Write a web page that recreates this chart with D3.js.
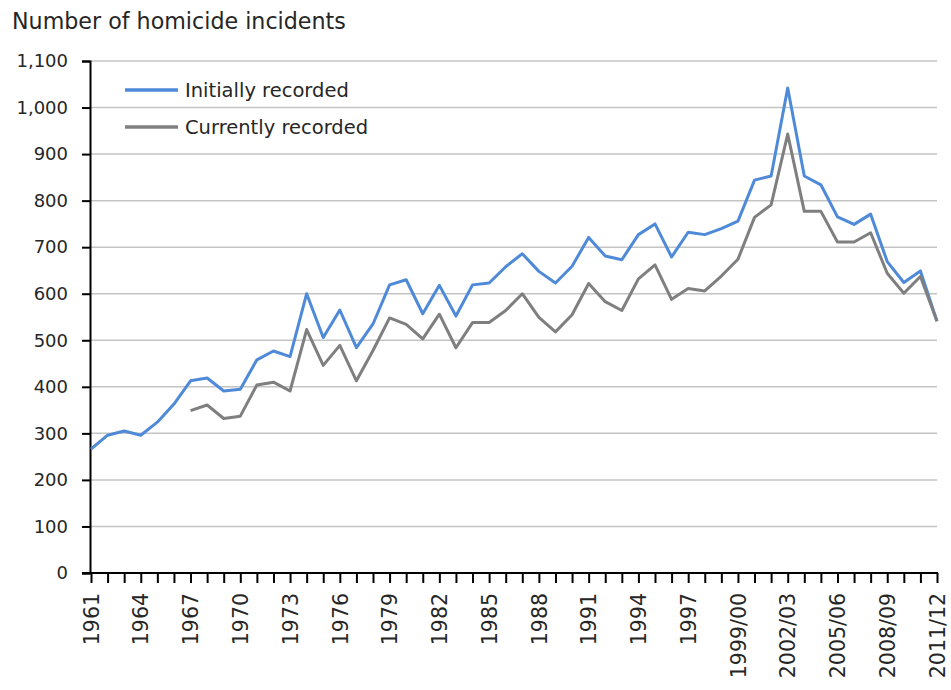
<!DOCTYPE html>
<html>
<head>
<meta charset="utf-8">
<script src="https://cdn.jsdelivr.net/npm/d3@7"></script>
<style>
  html, body { margin: 0; padding: 0; background: #ffffff; }
  svg { display: block; }
  text { font-family: "DejaVu Sans", sans-serif; fill: #262626; }
</style>
</head>
<body>
<svg id="chart" width="951" height="690"></svg>
<script>
// ---- Data ----
const categories = [
  "1961","1962","1963","1964","1965","1966","1967","1968","1969","1970",
  "1971","1972","1973","1974","1975","1976","1977","1978","1979","1980",
  "1981","1982","1983","1984","1985","1986","1987","1988","1989","1990",
  "1991","1992","1993","1994","1995","1996","1997","1997/98","1998/99","1999/00",
  "2000/01","2001/02","2002/03","2003/04","2004/05","2005/06","2006/07","2007/08","2008/09","2009/10",
  "2010/11","2011/12"
];
const initiallyRecorded = [
  266, 296, 305, 296, 324, 363, 413, 419, 391, 395,
  458, 477, 465, 600, 506, 565, 484, 535, 619, 630,
  557, 618, 552, 619, 623, 658, 686, 648, 623, 659,
  721, 681, 673, 727, 750, 679, 732, 727, 740, 756,
  844, 853, 1042, 853, 834, 765, 749, 771, 669, 624,
  649, 541
];
const currentlyRecorded = [
  null, null, null, null, null, null, 349, 361, 332, 337,
  404, 410, 391, 523, 446, 489, 413, 478, 548, 534,
  503, 556, 484, 538, 538, 564, 600, 549, 518, 555,
  622, 583, 564, 632, 662, 588, 611, 606, 638, 674,
  764, 791, 943, 777, 777, 711, 711, 731, 644, 601,
  637, 541
];
const xTickLabels = ["1961","1964","1967","1970","1973","1976","1979","1982","1985","1988",
  "1991","1994","1997","1999/00","2002/03","2005/06","2008/09","2011/12"];
const yTicks = [0,100,200,300,400,500,600,700,800,900,1000,1100];
const seriesNames = ["Initially recorded", "Currently recorded"];
const seriesColors = ["#4F8AD8", "#7F7F7F"];
const yTitle = "Number of homicide incidents";

// ---- Layout ----
const svg = d3.select("#chart");
const plotLeft = 90, plotRight = 937, plotTop = 61, plotBottom = 573;

const x = d3.scalePoint().domain(categories).range([plotLeft + 1, plotRight]);
const y = d3.scaleLinear().domain([0, 1100]).range([plotBottom, plotTop]);

// gridlines
svg.append("g")
  .selectAll("line")
  .data(yTicks.filter(d => d > 0))
  .join("line")
  .attr("x1", plotLeft).attr("x2", plotRight)
  .attr("y1", d => y(d)).attr("y2", d => y(d))
  .attr("stroke", "#c4c4c4").attr("stroke-width", 1.5);

// y axis
const yAxis = d3.axisLeft(y).tickValues(yTicks).tickSize(8).tickPadding(14)
  .tickFormat(d3.format(","));
const gy = svg.append("g").attr("transform", `translate(${plotLeft},0)`).call(yAxis);
gy.select(".domain").attr("stroke", "#000").attr("stroke-width", 2);
gy.selectAll(".tick line").attr("stroke", "#000").attr("stroke-width", 2);
gy.selectAll(".tick text").style("font-size", "18px").attr("fill", "#262626")
  .style("font-family", "'DejaVu Sans', sans-serif");

// x axis
const xAxis = d3.axisBottom(x).tickSize(10).tickSizeOuter(0)
  .tickFormat(d => xTickLabels.includes(d) ? d : "");
const gx = svg.append("g").attr("transform", `translate(0,${plotBottom})`).call(xAxis);
gx.select(".domain").attr("stroke", "#000").attr("stroke-width", 2)
  .attr("d", `M${plotLeft - 8},0H${plotRight + 1}`);
gx.selectAll(".tick line").attr("stroke", "#000").attr("stroke-width", 2);
gx.selectAll(".tick text")
  .style("font-size", "20.5px").attr("fill", "#262626")
  .style("font-family", "'DejaVu Sans', sans-serif")
  .attr("text-anchor", "end")
  .attr("dy", "0.35em")
  .attr("y", 0)
  .attr("transform", "translate(0,20) rotate(-90)");

// lines
const lineGen = d3.line()
  .defined(d => d.v != null)
  .x(d => x(d.c))
  .y(d => y(d.v));

[initiallyRecorded, currentlyRecorded].forEach((vals, i) => {
  const pts = categories.map((c, j) => ({ c, v: vals[j] }));
  svg.append("path")
    .datum(pts)
    .attr("fill", "none")
    .attr("stroke", seriesColors[i])
    .attr("stroke-width", 3)
    .attr("stroke-linejoin", "round")
    .attr("d", lineGen);
});

// legend
const legend = svg.append("g");
seriesNames.forEach((name, i) => {
  const ly = 90 + i * 37;
  legend.append("line")
    .attr("x1", 125).attr("x2", 178).attr("y1", ly).attr("y2", ly)
    .attr("stroke", seriesColors[i]).attr("stroke-width", 3.5);
  legend.append("text")
    .attr("x", 185).attr("y", ly + 7)
    .style("font-size", "19.5px")
    .text(name);
});

// y title
svg.append("text")
  .attr("x", 12).attr("y", 29)
  .style("font-size", "22.2px")
  .text(yTitle);
</script>
</body>
</html>
